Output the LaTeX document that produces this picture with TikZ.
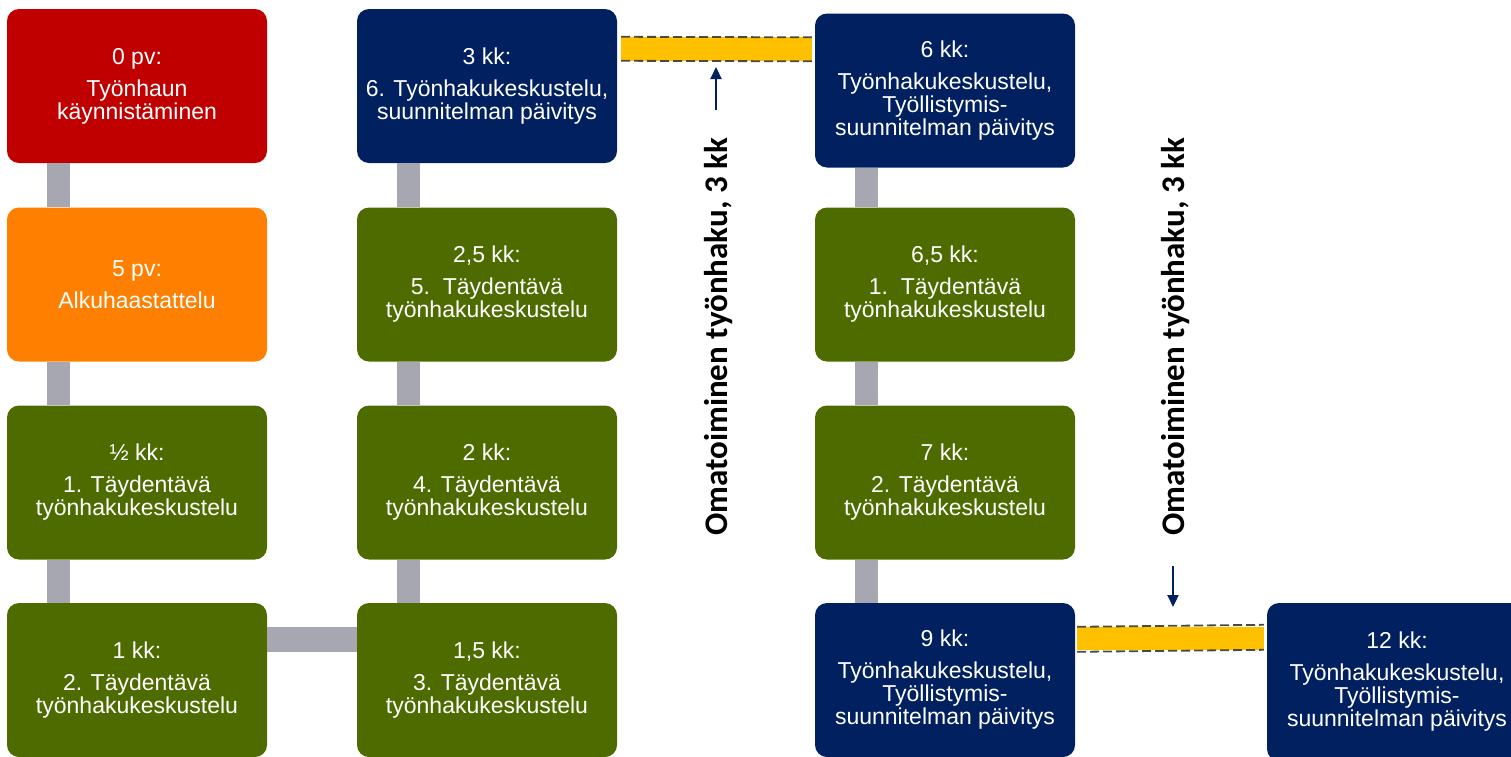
\documentclass[tikz,border=0pt]{standalone}
\usepackage{fontspec}
\setmainfont{Liberation Sans}
\newfontfamily\calfont{Carlito}
\usetikzlibrary{calc,arrows.meta}
\definecolor{cred}{HTML}{C00000}
\definecolor{corange}{HTML}{FF8000}
\definecolor{cgreen}{HTML}{4E6B00}
\definecolor{cnavy}{HTML}{002060}
\definecolor{cgray}{HTML}{A7A7B1}
\definecolor{cyellow}{HTML}{FFC000}
\definecolor{cdash}{HTML}{4A4A40}
\begin{document}
\begin{tikzpicture}[x=1pt,y=-1pt,
  box/.style={rounded corners=12pt, minimum width=260pt, minimum height=154pt,
    inner sep=0pt, text=white, align=center, font=\fontsize{23}{23}\selectfont},
  redbox/.style={box, fill=cred},
  orangebox/.style={box, fill=corange},
  greenbox/.style={box, fill=cgreen},
  navybox/.style={box, fill=cnavy},
  conn/.style={fill=cgray},
  bar/.style={fill=cyellow},
  barline/.style={draw=cdash, line width=1.8pt, dash pattern=on 9pt off 4pt},
  timearrow/.style={draw=cnavy, line width=2.2pt, -{Triangle[length=12pt,width=11pt]}},
  sidetext/.style={rotate=90, inner sep=0pt, font=\calfont\bfseries\fontsize{33}{33}\selectfont}]
\useasboundingbox (0,0) rectangle (1511,756);
\clip (0,0) rectangle (1511,756);
% column 1
\node[redbox] (a1) at (137,86) {0 pv:\\[9pt]Työnhaun\\käynnistäminen};
\node[orangebox] (a2) at (137,284.5) {5 pv:\\[9pt]Alkuhaastattelu};
\node[greenbox] (a3) at (137,482.5) {½ kk:\\[9pt]1. Täydentävä\\työnhakukeskustelu};
\node[greenbox] (a4) at (137,680) {1 kk:\\[9pt]2. Täydentävä\\työnhakukeskustelu};
% column 2
\node[navybox] (b1) at (487,86) {3 kk:\\[9pt]6. Työnhakukeskustelu,\\suunnitelman päivitys};
\node[greenbox] (b2) at (487,284.5) {2,5 kk:\\[9pt]5.\ \ Täydentävä\\työnhakukeskustelu};
\node[greenbox] (b3) at (487,482.5) {2 kk:\\[9pt]4. Täydentävä\\työnhakukeskustelu};
\node[greenbox] (b4) at (487,680) {1,5 kk:\\[9pt]3. Täydentävä\\työnhakukeskustelu};
% column 3
\node[navybox] (c1) at (945,90.5) {6 kk:\\[9pt]Työnhakukeskustelu,\\Työllistymis-\\suunnitelman päivitys};
\node[greenbox] (c2) at (945,284.5) {6,5 kk:\\[9pt]1.\ \ Täydentävä\\työnhakukeskustelu};
\node[greenbox] (c3) at (945,482.5) {7 kk:\\[9pt]2. Täydentävä\\työnhakukeskustelu};
\node[navybox] (c4) at (945,680) {9 kk:\\[9pt]Työnhakukeskustelu,\\Työllistymis-\\suunnitelman päivitys};
% column 4
\node[navybox, minimum height=158pt] (d4) at (1397,682) {12 kk:\\[9pt]Työnhakukeskustelu,\\Työllistymis-\\suunnitelman päivitys};
% vertical connectors
\foreach \u/\v in {a1/a2,a2/a3,a3/a4,b1/b2,b2/b3,b3/b4,c1/c2,c2/c3,c3/c4}{
  \fill[conn] ($(\u.south west)+(40,0)$) rectangle ($(\v.north west)+(63,0)$);
}
% horizontal connector
\fill[conn] ($(a4.north east)+(0,24)$) rectangle ($(b4.north west)+(0,49)$);
% yellow bars
\fill[bar] ($(b1.north east)+(4,28)$) rectangle ($(c1.north west)+(-3,48)$);
\draw[barline] ($(b1.north east)+(4,28)$) -- ($(c1.north west)+(-3,24)$);
\draw[barline] ($(b1.north east)+(4,52)$) -- ($(c1.north west)+(-3,48)$);
\fill[bar] ($(c4.north east)+(2,24)$) rectangle ($(d4.north west)+(-3,47)$);
\draw[barline] ($(c4.north east)+(2,24)$) -- ($(d4.north west)+(-3,22)$);
\draw[barline] ($(c4.north east)+(2,49)$) -- ($(d4.north west)+(-3,47)$);
% side texts and arrows
\node[sidetext] (t1) at (719,337) {Omatoiminen työnhaku, 3 kk};
\node[sidetext] (t2) at (1175,337) {Omatoiminen työnhaku, 3 kk};
\coordinate (p1s) at (716,110);
\coordinate (p1e) at (716,67);
\coordinate (p2s) at (1173,566);
\coordinate (p2e) at (1173,607);
\draw[timearrow] (p1s) -- (p1e);
\draw[timearrow] (p2s) -- (p2e);
\end{tikzpicture}
\end{document}
